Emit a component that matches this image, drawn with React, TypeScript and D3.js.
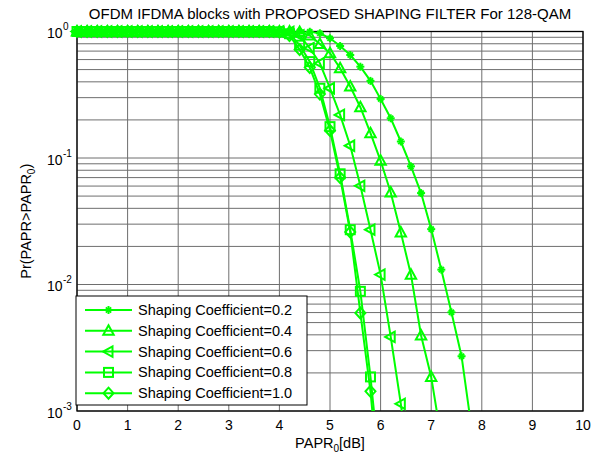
import React from "react";
import * as d3 from "d3";

const papr = [0, 0.2, 0.4, 0.6, 0.8, 1.0, 1.2, 1.4, 1.6, 1.8, 2.0, 2.2, 2.4, 2.6, 2.8, 3.0, 3.2, 3.4, 3.6, 3.8, 4.0, 4.2, 4.4, 4.6, 4.8, 5.0, 5.2, 5.4, 5.6, 5.8, 6.0, 6.2, 6.4, 6.6, 6.8, 7.0, 7.2, 7.4, 7.6, 7.8];

const coef02 = [1, 1, 1, 1, 1, 1, 1, 1, 1, 1, 1, 1, 1, 1, 1, 1, 1, 1, 1, 1, 1, 1, 1, 0.995, 0.968, 0.884, 0.768, 0.652, 0.527, 0.407, 0.293, 0.206, 0.135, 0.0859, 0.0528, 0.0274, 0.0131, 0.00603, 0.00271, 0.00072];
const coef04 = [1, 1, 1, 1, 1, 1, 1, 1, 1, 1, 1, 1, 1, 1, 1, 1, 1, 1, 1, 1, 1, 1, 0.99, 0.93, 0.797, 0.673, 0.512, 0.367, 0.252, 0.157, 0.095, 0.0534, 0.0258, 0.01196, 0.00395, 0.00186, 0.0006];
const coef06 = [1, 1, 1, 1, 1, 1, 1, 1, 1, 1, 1, 1, 1, 1, 1, 1, 1, 1, 1, 1, 1, 0.995, 0.93, 0.74, 0.561, 0.356, 0.219, 0.125, 0.0603, 0.0271, 0.01197, 0.00385, 0.00114, 0.00025];
const coef08 = [1, 1, 1, 1, 1, 1, 1, 1, 1, 1, 1, 1, 1, 1, 1, 1, 1, 1, 1, 1, 0.995, 0.96, 0.78, 0.578, 0.356, 0.177, 0.075, 0.0271, 0.00883, 0.00186, 0.0003];
const coef10 = [1, 1, 1, 1, 1, 1, 1, 1, 1, 1, 1, 1, 1, 1, 1, 1, 1, 1, 1, 1, 0.99, 0.93, 0.72, 0.52, 0.32, 0.165, 0.07, 0.026, 0.00596, 0.00143, 0.0002];

const seriesNames = ["Shaping Coefficient=0.2", "Shaping Coefficient=0.4", "Shaping Coefficient=0.6", "Shaping Coefficient=0.8", "Shaping Coefficient=1.0"];
const seriesValues = [coef02, coef04, coef06, coef08, coef10];
const seriesMarkers = ["star", "triUp", "triLeft", "square", "diamond"];

const xTicks = [0, 1, 2, 3, 4, 5, 6, 7, 8, 9, 10];
const yDecades = [1, 0.1, 0.01, 0.001];
const yExponents = ["0", "-1", "-2", "-3"];
const titleText = "OFDM IFDMA blocks with PROPOSED SHAPING FILTER For 128-QAM";

const GREEN = "#00ff00";
const FONT = "Arial, 'Liberation Sans', sans-serif";

const L = 77, R = 583, T = 31.5, B = 411;

function Marker({ type, x, y }: { type: string; x: number; y: number }) {
  const common = { stroke: GREEN, strokeWidth: 2, fill: "none" };
  if (type === "star") {
    const s = 4, d = 2.6;
    return (
      <g stroke={GREEN} strokeWidth={2}>
        <line x1={x - s} y1={y} x2={x + s} y2={y} />
        <line x1={x} y1={y - s} x2={x} y2={y + s} />
        <line x1={x - d} y1={y - d} x2={x + d} y2={y + d} />
        <line x1={x - d} y1={y + d} x2={x + d} y2={y - d} />
      </g>
    );
  }
  if (type === "triUp") {
    return <polygon {...common} points={`${x},${y - 5.5} ${x + 5.2},${y + 4} ${x - 5.2},${y + 4}`} />;
  }
  if (type === "triLeft") {
    return <polygon {...common} points={`${x - 5.5},${y} ${x + 4},${y - 5.2} ${x + 4},${y + 5.2}`} />;
  }
  if (type === "square") {
    return <rect {...common} x={x - 4.5} y={y - 4.5} width={9} height={9} />;
  }
  return <polygon {...common} points={`${x},${y - 5.5} ${x + 5},${y} ${x},${y + 5.5} ${x - 5},${y}`} />;
}

export default function App() {
  const x = d3.scaleLinear().domain([0, 10]).range([L, R]);
  const y = d3.scaleLog().domain([0.001, 1]).range([B, T]);

  const minorY: number[] = [];
  [0.001, 0.01, 0.1].forEach((dec) => {
    for (let k = 2; k <= 9; k++) minorY.push(dec * k);
  });

  const line = d3
    .line<[number, number]>()
    .x((d) => x(d[0]))
    .y((d) => y(d[1]));

  const legX = 76, legY = 296, legW = 231, legH = 109;
  const rowY = (i: number) => 310 + i * 20.8;

  return (
    <svg width={600} height={454} style={{ position: "absolute", left: 0, top: 0, background: "#fff" }} fontFamily={FONT}>
      <defs>
        <clipPath id="plotclip">
          <rect x={L} y={T} width={R - L} height={B - T} />
        </clipPath>
      </defs>
      <rect x={0} y={0} width={600} height={454} fill="#fff" />
      {/* grid */}
      <g stroke="#6e6e6e" strokeWidth={1}>
        {xTicks.map((t) => (
          <line key={"gx" + t} x1={x(t)} x2={x(t)} y1={T} y2={B} />
        ))}
        {minorY.map((v, i) => (
          <line key={"gm" + i} x1={L} x2={R} y1={y(v)} y2={y(v)} />
        ))}
        {yDecades.map((v, i) => (
          <line key={"gy" + i} x1={L} x2={R} y1={y(v)} y2={y(v)} />
        ))}
      </g>
      {/* axes box */}
      <rect x={L} y={T} width={R - L} height={B - T} fill="none" stroke="#000" strokeWidth={1.3} />
      {/* x tick labels */}
      {xTicks.map((t) => (
        <text key={"xt" + t} x={x(t)} y={430} textAnchor="middle" fontSize={14}>
          {t}
        </text>
      ))}
      {/* y tick labels */}
      {yDecades.map((v, i) => (
        <g key={"yt" + i}>
          <text x={62.5} y={y(v) + 6.7} textAnchor="end" fontSize={14}>
            10
          </text>
          <text x={63} y={y(v) - 1.5} textAnchor="start" fontSize={10}>
            {yExponents[i]}
          </text>
        </g>
      ))}
      {/* series */}
      {seriesValues.map((vals, si) => {
        const pts: [number, number][] = vals.map((v, i) => [papr[i], v]);
        return (
          <g key={"s" + si}>
            <path d={line(pts) || ""} fill="none" stroke={GREEN} strokeWidth={2} clipPath="url(#plotclip)" />
            {pts
              .filter((p) => p[1] >= 0.001)
              .map((p, i) => (
                <Marker key={i} type={seriesMarkers[si]} x={x(p[0])} y={y(p[1])} />
              ))}
          </g>
        );
      })}
      {/* title */}
      <text x={(L + R) / 2} y={19} textAnchor="middle" fontSize={15}>
        {titleText}
      </text>
      {/* x label */}
      <text x={(L + R) / 2} y={448} textAnchor="middle" fontSize={14.5}>
        PAPR
        <tspan fontSize={10} dy={4}>0</tspan>
        <tspan dy={-4}>[dB]</tspan>
      </text>
      {/* y label */}
      <text transform={`translate(31,${(T + B) / 2}) rotate(-90)`} textAnchor="middle" fontSize={14.5}>
        Pr(PAPR&gt;PAPR
        <tspan fontSize={10} dy={4}>0</tspan>
        <tspan dy={-4}>)</tspan>
      </text>
      {/* legend */}
      <rect x={legX} y={legY} width={legW} height={legH} fill="#fff" stroke="#000" strokeWidth={1} />
      {seriesNames.map((name, i) => (
        <g key={"lg" + i}>
          <line x1={85} x2={132} y1={rowY(i)} y2={rowY(i)} stroke={GREEN} strokeWidth={2} />
          <Marker type={seriesMarkers[i]} x={108.5} y={rowY(i)} />
          <text x={138} y={rowY(i) + 5} fontSize={14.5}>
            {name}
          </text>
        </g>
      ))}
    </svg>
  );
}
